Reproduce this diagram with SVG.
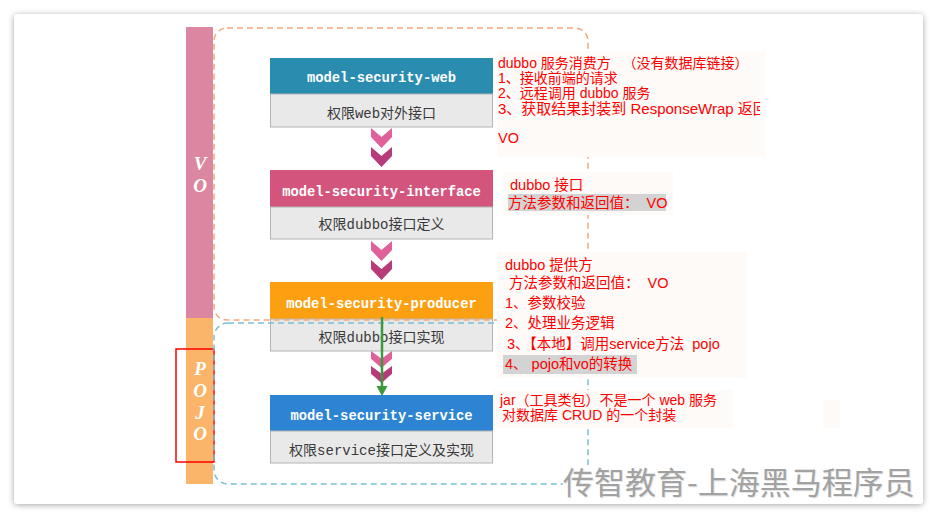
<svg xmlns="http://www.w3.org/2000/svg" width="937" height="519" viewBox="0 0 937 519">
<defs>
<filter id="sh" x="-5%" y="-5%" width="110%" height="110%">
<feDropShadow dx="0" dy="1" stdDeviation="3" flood-color="#000" flood-opacity="0.35"/>
</filter>
<clipPath id="clip1"><rect x="490" y="40" width="270" height="120"/></clipPath>
<path id="chev" d="M-10.5,0 L0,9 L10.5,0 L10.5,9 L0,20 L-10.5,9 Z"/>
<style>
.hd{font-family:"Liberation Mono",monospace;font-weight:bold;font-size:13.8px;fill:#fff;text-anchor:middle}
.bd{font-family:"Liberation Mono","Noto Sans CJK SC",monospace;font-size:14px;fill:#3a3a3a;text-anchor:middle}
.body{fill:#e9e9e9;stroke:#b4b4b4;stroke-width:1}
.red{font-family:"Liberation Sans","Noto Sans CJK SC",sans-serif;font-size:14.5px;fill:#ff0000;white-space:pre}
.faint{fill:#fdfaf8}
.hl{fill:#d3d3d3}
.lbl{font-family:"Liberation Serif",serif;font-style:italic;font-weight:bold;font-size:19px;fill:#fff;text-anchor:middle}
.c1{fill:#e0609a}
.c2{fill:#b73b78}
.wm{font-family:"Noto Sans CJK SC",sans-serif;font-size:31px}
</style>
</defs>
<rect x="0" y="0" width="937" height="519" fill="#ffffff"/>
<rect x="14" y="14" width="909" height="490" rx="4" fill="#ffffff" filter="url(#sh)"/>

<g id="layer-bar">
<rect x="186" y="27" width="27" height="291" fill="#dc87a2"/>
<rect x="186" y="318" width="27" height="166" fill="#fbb56a"/>
<text class="lbl" x="200" y="170">V</text>
<text class="lbl" x="200" y="192">O</text>
<text class="lbl" x="200" y="375">P</text>
<text class="lbl" x="200" y="397">O</text>
<text class="lbl" x="200" y="419">J</text>
<text class="lbl" x="200" y="440">O</text>
<rect x="176" y="349" width="38" height="113" fill="none" stroke="#ff0000" stroke-width="1.5"/>
</g>

<g id="node-web">
<rect x="270" y="58" width="223" height="36" fill="#2a8db0"/>
<rect class="body" x="270.5" y="94" width="222" height="33"/>
<text class="hd" x="381.5" y="82">model-security-web</text>
<text class="bd" x="381.5" y="118">权限web对外接口</text>
</g>

<g id="node-interface">
<rect x="270" y="170" width="223" height="37" fill="#d3547c"/>
<rect class="body" x="270.5" y="207" width="222" height="32"/>
<text class="hd" x="381.5" y="195.5">model-security-interface</text>
<text class="bd" x="381.5" y="229">权限dubbo接口定义</text>
</g>

<g id="node-producer">
<rect x="270" y="282" width="223" height="37" fill="#fca011"/>
<rect class="body" x="270.5" y="319" width="222" height="32"/>
<text class="hd" x="381.5" y="307.5">model-security-producer</text>
<text class="bd" x="381.5" y="342">权限dubbo接口实现</text>
</g>

<g id="node-service">
<rect x="270" y="395" width="223" height="36" fill="#2c84d2"/>
<rect class="body" x="270.5" y="431" width="222" height="32"/>
<text class="hd" x="381.5" y="419.5">model-security-service</text>
<text class="bd" x="381.5" y="455">权限service接口定义及实现</text>
</g>

<g id="groups">
<rect x="214" y="28" width="374" height="292" rx="13" fill="none" stroke="#f5a97f" stroke-width="1.5" stroke-dasharray="6 4"/>
<rect x="214" y="323" width="374" height="161" rx="14" fill="none" stroke="#79c0d6" stroke-width="1.5" stroke-dasharray="6 4"/>
</g>

<g id="connectors">
<use href="#chev" class="c1" transform="translate(381.5,128)"/>
<use href="#chev" class="c2" transform="translate(381.5,147)"/>
<use href="#chev" class="c1" transform="translate(381.5,241)"/>
<use href="#chev" class="c2" transform="translate(381.5,260)"/>
<use href="#chev" class="c1" transform="translate(381.5,351) scale(1,0.85)"/>
<use href="#chev" class="c2" transform="translate(381.5,366) scale(1,0.85)"/>
<line x1="382" y1="317" x2="382" y2="388" stroke="#3c9a3c" stroke-width="2.5"/>
<polygon points="376.5,386 387.5,386 382,396" fill="#3c9a3c"/>
</g>

<g id="note-web">
<rect class="faint" x="497" y="51" width="268" height="106"/>
<g clip-path="url(#clip1)">
<text class="red" x="498" y="68" style="font-size:14px">dubbo 服务消费方   （没有数据库链接）</text>
<text class="red" x="498" y="83" style="font-size:14px">1、接收前端的请求</text>
<text class="red" x="498" y="97.5" style="font-size:14px">2、远程调用 dubbo 服务</text>
<text class="red" x="498" y="114" style="font-size:15px">3、获取结果封装到 ResponseWrap 返回</text>
<text class="red" x="498" y="143">VO</text>
</g>
</g>

<g id="note-interface">
<rect class="faint" x="503" y="172" width="170" height="43"/>
<rect class="hl" x="508" y="194" width="158" height="17"/>
<text class="red" x="510" y="190">dubbo 接口</text>
<text class="red" x="508" y="208">方法参数和返回值：  VO</text>
</g>

<g id="note-producer">
<rect class="faint" x="497" y="252" width="250" height="126"/>
<rect class="hl" x="503" y="355" width="134" height="19"/>
<text class="red" x="505" y="270">dubbo 提供方</text>
<text class="red" x="505" y="288"> 方法参数和返回值：  VO</text>
<text class="red" x="505" y="308">1、参数校验</text>
<text class="red" x="505" y="328">2、处理业务逻辑</text>
<text class="red" x="507" y="349">3、【本地】调用service方法  pojo</text>
<text class="red" x="505" y="369">4、 pojo和vo的转换</text>
</g>

<g id="note-service">
<rect class="faint" x="493" y="390" width="240" height="38"/>
<rect class="faint" x="823" y="400" width="17" height="28"/>
<text class="red" x="500" y="404.5" style="font-size:14px">jar（工具类包）不是一个 web 服务</text>
<text class="red" x="502" y="420" style="font-size:14px">对数据库 CRUD 的一个封装</text>
</g>

<g id="watermark">
<rect x="563" y="465" width="352" height="36" fill="#ffffff"/>
<text class="wm" x="564" y="495" fill="#e6e6e6">传智教育-上海黑马程序员</text>
<text class="wm" x="563" y="494" fill="#a2a2a2">传智教育-上海黑马程序员</text>
</g>
</svg>
